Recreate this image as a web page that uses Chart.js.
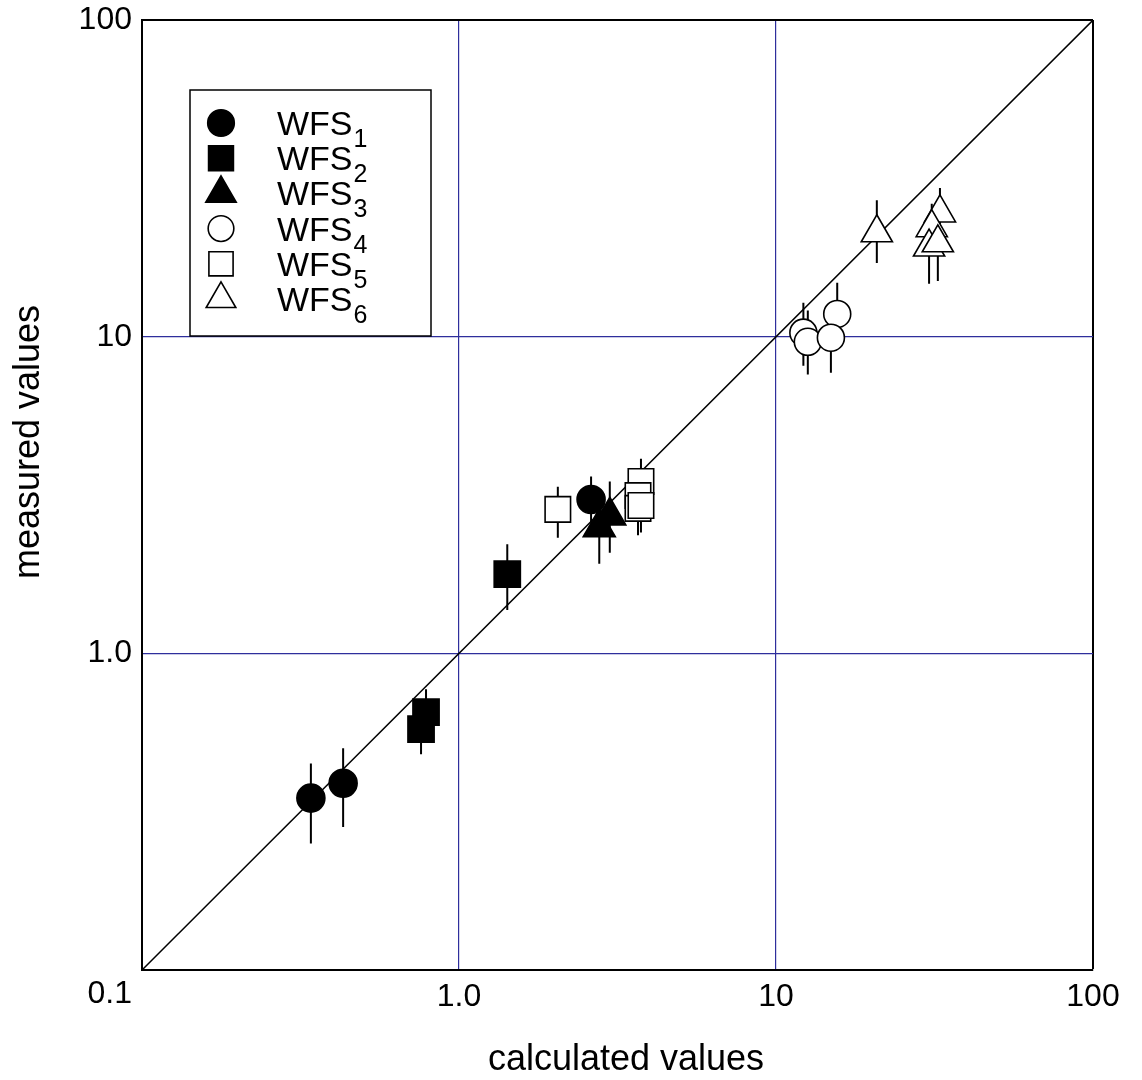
<!DOCTYPE html>
<html>
<head>
<meta charset="utf-8">
<script src="https://cdn.jsdelivr.net/npm/chart.js@4/dist/chart.umd.min.js"></script>
<style>
  html, body { margin: 0; padding: 0; background: #ffffff; }
  #wrap { width: 1142px; height: 1080px; }
</style>
</head>
<body>
<div id="wrap"><canvas id="c" width="1142" height="1080"></canvas></div>
<script>
// ---- data ----
const seriesBase = ['WFS', 'WFS', 'WFS', 'WFS', 'WFS', 'WFS'];
const seriesSub = ['1', '2', '3', '4', '5', '6'];

const wfs1X = [0.341, 0.431, 2.61];
const wfs1Y = [0.349, 0.389, 3.06];
const wfs1Lo = [0.251, 0.283, 2.59];
const wfs1Hi = [0.449, 0.502, 3.62];

const wfs2X = [0.759, 0.787, 1.42];
const wfs2Y = [0.576, 0.652, 1.78];
const wfs2Lo = [0.48, 0.55, 1.37];
const wfs2Hi = [0.69, 0.77, 2.21];

const wfs3X = [2.77, 2.99];
const wfs3Y = [2.50, 2.72];
const wfs3Lo = [1.92, 2.08];
const wfs3Hi = [3.25, 3.49];

const wfs4X = [12.2, 12.6, 15.6, 14.9];
const wfs4Y = [10.3, 9.64, 11.8, 9.93];
const wfs4Lo = [8.1, 7.6, 9.4, 7.7];
const wfs4Hi = [12.8, 12.1, 14.8, 12.8];

const wfs5X = [2.05, 3.75, 3.67, 3.67, 3.75];
const wfs5Y = [2.85, 3.49, 3.15, 2.87, 2.93];
const wfs5Lo = [2.32, 2.9, 2.6, 2.36, 2.41];
const wfs5Hi = [3.36, 4.12, 3.8, 3.45, 3.5];

const wfs6X = [20.8, 32.9, 31.0, 30.4, 32.4];
const wfs6Y = [21.3, 24.6, 22.1, 19.2, 19.8];
const wfs6Lo = [17.1, 20.5, 18.0, 14.7, 15.0];
const wfs6Hi = [27.0, 29.5, 26.3, 24.0, 24.5];

const identityLine = [0.1, 100];

const tickValues = [0.1, 1, 10, 100];
const xTickLabels = ['', '1.0', '10', '100'];
const yTickLabels = ['0.1', '1.0', '10', '100'];

const xTitle = 'calculated values';
const yTitle = 'measured values';

// ---- styling ----
const FONT = '"Liberation Sans", Arial, sans-serif';
const GRID_BLUE = '#2e2e9c';

const markerStyles = [
  { pointStyle: 'circle',   radius: 14, fill: '#000000' },
  { pointStyle: 'rect',     radius: 18.5, fill: '#000000' },
  { pointStyle: 'triangle', radius: 18.5, fill: '#000000' },
  { pointStyle: 'circle',   radius: 13.5, fill: '#ffffff' },
  { pointStyle: 'rect',     radius: 18, fill: '#ffffff' },
  { pointStyle: 'triangle', radius: 18, fill: '#ffffff' }
];

const seriesX = [wfs1X, wfs2X, wfs3X, wfs4X, wfs5X, wfs6X];
const seriesY = [wfs1Y, wfs2Y, wfs3Y, wfs4Y, wfs5Y, wfs6Y];
const seriesLo = [wfs1Lo, wfs2Lo, wfs3Lo, wfs4Lo, wfs5Lo, wfs6Lo];
const seriesHi = [wfs1Hi, wfs2Hi, wfs3Hi, wfs4Hi, wfs5Hi, wfs6Hi];

const markerDatasets = seriesX.map((xs, s) => ({
  type: 'scatter',
  label: seriesBase[s] + seriesSub[s],
  data: xs.map((x, i) => ({ x: x, y: seriesY[s][i] })),
  pointStyle: markerStyles[s].pointStyle,
  pointRadius: markerStyles[s].radius,
  pointHoverRadius: markerStyles[s].radius,
  pointBackgroundColor: markerStyles[s].fill,
  pointBorderColor: '#000000',
  pointBorderWidth: 1.6,
  showLine: false,
  order: 1
}));

const errData = [];
seriesX.forEach((xs, s) => {
  xs.forEach((x, i) => {
    errData.push({ x: x, y: seriesLo[s][i] });
    errData.push({ x: x, y: seriesHi[s][i] });
    errData.push({ x: null, y: null });
  });
});

const errorDataset = {
  type: 'line',
  label: 'error bars',
  data: errData,
  borderColor: '#000000',
  borderWidth: 2,
  pointRadius: 0,
  spanGaps: false,
  fill: false,
  order: 2
};

const diagDataset = {
  type: 'line',
  label: 'y = x',
  data: identityLine.map(v => ({ x: v, y: v })),
  borderColor: '#000000',
  borderWidth: 1.5,
  pointRadius: 0,
  fill: false,
  order: 3
};

// legend + axis titles plugin
const customLegend = {
  id: 'customLegend',
  afterDraw(chart) {
    const ctx = chart.ctx;
    ctx.save();
    // axis titles
    ctx.fillStyle = '#000000';
    ctx.font = '36px ' + FONT;
    ctx.textAlign = 'center';
    ctx.textBaseline = 'alphabetic';
    ctx.fillText(xTitle, 626, 1070);
    ctx.save();
    ctx.translate(39, 442);
    ctx.rotate(-Math.PI / 2);
    ctx.fillText(yTitle, 0, 0);
    ctx.restore();

    // legend box
    ctx.lineWidth = 1.5;
    ctx.strokeStyle = '#000000';
    ctx.fillStyle = '#ffffff';
    ctx.fillRect(190, 90, 241, 246);
    ctx.strokeRect(190, 90, 241, 246);
    for (let s = 0; s < seriesBase.length; s++) {
      const y = 123 + s * 35.2;
      ctx.fillStyle = markerStyles[s].fill;
      ctx.strokeStyle = '#000000';
      ctx.lineWidth = 1.6;
      Chart.helpers.drawPoint(ctx, {
        pointStyle: markerStyles[s].pointStyle,
        radius: markerStyles[s].radius * 0.95,
        rotation: 0,
        borderWidth: 1.6
      }, 221, y);
      ctx.fillStyle = '#000000';
      ctx.textAlign = 'left';
      ctx.textBaseline = 'alphabetic';
      ctx.font = '34px ' + FONT;
      ctx.fillText(seriesBase[s], 277, y + 12);
      const w = ctx.measureText(seriesBase[s]).width;
      ctx.font = '25px ' + FONT;
      ctx.fillText(seriesSub[s], 277 + w + 1, y + 24);
    }
    ctx.restore();
  }
};

function gridColor(c) {
  const v = c.tick && c.tick.value;
  if (v === 100) return '#000000';
  if (v === 1 || v === 10) return GRID_BLUE;
  return 'rgba(0,0,0,0)';
}
function gridWidth(c) {
  const v = c.tick && c.tick.value;
  return v === 100 ? 2 : 1.2;
}

new Chart(document.getElementById('c'), {
  data: { datasets: [...markerDatasets, errorDataset, diagDataset] },
  options: {
    responsive: false,
    animation: false,
    layout: { padding: { top: 19, right: 49, left: 0, bottom: 0 } },
    plugins: {
      legend: { display: false },
      tooltip: { enabled: false },
      title: { display: false }
    },
    scales: {
      x: {
        type: 'logarithmic',
        position: 'bottom',
        min: 0.1,
        max: 100,
        afterBuildTicks: (s) => { s.ticks = tickValues.map(v => ({ value: v })); },
        afterFit: (s) => { s.height = 110; s.paddingLeft = 0; s.paddingRight = 0; },
        ticks: {
          autoSkip: false,
          maxRotation: 0,
          padding: 8,
          color: '#000000',
          font: { family: FONT, size: 32 },
          callback: (v) => xTickLabels[tickValues.indexOf(v)]
        },
        grid: { color: gridColor, lineWidth: gridWidth, drawTicks: false },
        border: { display: true, color: '#000000', width: 2 }
      },
      y: {
        type: 'logarithmic',
        position: 'left',
        min: 0.1,
        max: 100,
        afterBuildTicks: (s) => { s.ticks = tickValues.map(v => ({ value: v })); },
        afterFit: (s) => { s.width = 142; s.paddingTop = 0; s.paddingBottom = 0; },
        ticks: {
          autoSkip: false,
          padding: 10,
          color: '#000000',
          font: { family: FONT, size: 32, lineHeight: 1.5 },
          callback: (v) => {
            const lab = yTickLabels[tickValues.indexOf(v)];
            return v === 0.1 ? ['', lab] : lab;
          }
        },
        grid: { color: gridColor, lineWidth: gridWidth, drawTicks: false },
        border: { display: true, color: '#000000', width: 2 }
      }
    }
  },
  plugins: [customLegend]
});
</script>
</body>
</html>
